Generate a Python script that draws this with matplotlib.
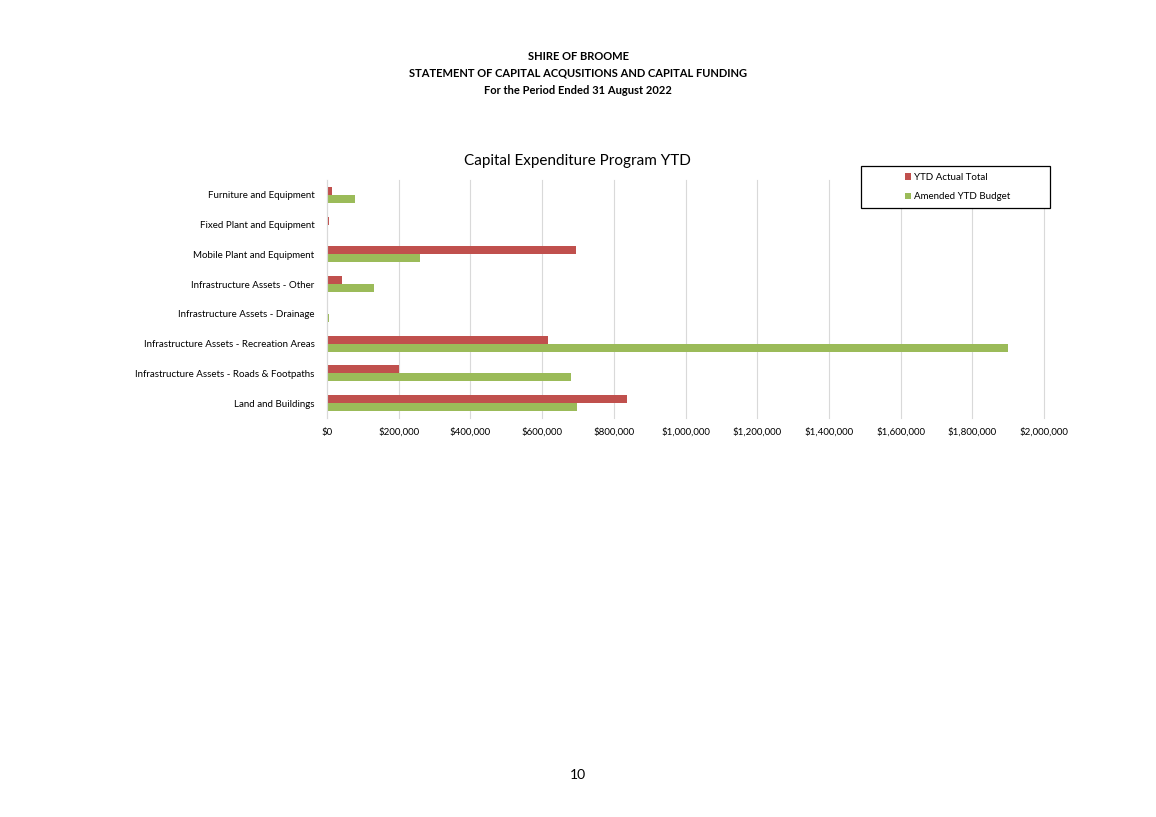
import numpy as np
import matplotlib as mpl
from matplotlib import pyplot as plt
from matplotlib.patches import Rectangle

mpl.rcParams['font.family'] = ['Lato', 'DejaVu Sans']

categories = ['Furniture and Equipment', 'Fixed Plant and Equipment',
              'Mobile Plant and Equipment', 'Infrastructure Assets - Other',
              'Infrastructure Assets - Drainage',
              'Infrastructure Assets - Recreation Areas',
              'Infrastructure Assets - Roads & Footpaths', 'Land and Buildings']
ytd_actual = [15000, 5500, 694000, 41000, 0, 616000, 202000, 836000]
ytd_budget = [79000, 3500, 259000, 130000, 5000, 1900000, 680000, 696000]
xticks = np.arange(0, 2000001, 200000)

fig = plt.figure(figsize=(11.56, 8.17), dpi=100)

# page header
fig.text(0.5, 1 - 56 / 817, 'SHIRE OF BROOME', ha='center', va='center',
         fontsize=8, fontweight='bold')
fig.text(0.5, 1 - 73 / 817, 'STATEMENT OF CAPITAL ACQUSITIONS AND CAPITAL FUNDING',
         ha='center', va='center', fontsize=8, fontweight='bold')
fig.text(0.5, 1 - 90 / 817, 'For the Period Ended 31 August 2022', ha='center',
         va='center', fontsize=8, fontweight='bold')
fig.text(0.5, 1 - 775 / 817, '10', ha='center', va='center', fontsize=10)

ax = fig.add_axes([327 / 1156, 1 - 418 / 817, 717 / 1156, 238 / 817])

y = np.arange(len(categories))
h = 0.27
ax.barh(y - h / 2, ytd_actual, height=h, color='#C0504D', label='YTD Actual Total')
ax.barh(y + h / 2, ytd_budget, height=h, color='#9BBB59', label='Amended YTD Budget')

ax.set_ylim(len(categories) - 0.5, -0.5)
ax.set_yticks(y)
ax.set_yticklabels(categories, fontsize=7)
ax.set_xlim(0, 2000000)
ax.set_xticks(xticks)
ax.set_xticklabels(['${:,.0f}'.format(v) for v in xticks], fontsize=7)
ax.tick_params(axis='y', length=0, pad=9)
ax.tick_params(axis='x', length=0, pad=7)
ax.grid(axis='x', color='#D9D9D9', linewidth=0.8)
for gl in ax.get_xgridlines():
    gl.set_clip_on(False)
ax.set_axisbelow(True)
for s in ['top', 'right', 'bottom']:
    ax.spines[s].set_visible(False)
ax.spines['left'].set_color('#D9D9D9')

fig.text(577 / 1156, 1 - 161 / 817, 'Capital Expenditure Program YTD',
         ha='center', va='center', fontsize=11)

# legend box drawn separately, entries placed inside it
box = Rectangle((861 / 1156, 1 - 208 / 817), 189 / 1156, 42 / 817,
                transform=fig.transFigure, facecolor='white',
                edgecolor='black', linewidth=0.9, zorder=4)
fig.patches.append(box)
leg = fig.legend(*ax.get_legend_handles_labels(), loc='upper left',
                 bbox_to_anchor=(902 / 1156, 1 - 170 / 817),
                 fontsize=7, frameon=False, handlelength=0.6,
                 handleheight=0.6, handletextpad=0.3, borderpad=0.3,
                 labelspacing=1.05, borderaxespad=0)
leg.set_zorder(5)

fig.savefig('out.png', dpi=100)
